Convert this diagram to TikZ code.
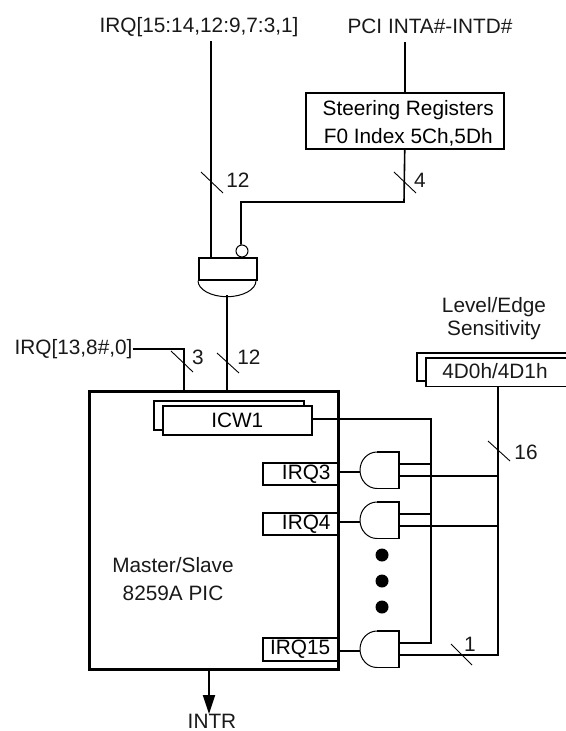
\documentclass[tikz,border=0pt]{standalone}
\usepackage{fontspec}
\setmainfont{Liberation Sans}
\usetikzlibrary{arrows.meta}
\newcommand{\fnt}{\fontsize{20.8}{22}\selectfont}
\tikzset{
  wire/.style={line width=1.6pt,line cap=butt},
  slash/.style={line width=0.9pt},
  regbox/.style={draw,line width=1.5pt,fill=white,inner sep=0pt,anchor=north west},
  lbl/.style={inner sep=0pt,font=\fnt,text=black!90},
  dot/.style={circle,fill=black,inner sep=0pt,minimum size=13pt},
}
% gate: name, y-top; body 360..399, height 36
\newcommand{\andgate}[2]{%
  \draw[line width=1.5pt] (377,#2) -- (399,#2) -- (399,#2+36.5) -- (377,#2+36.5);
  \draw[line width=1pt] (377,#2) arc[start angle=270,end angle=90,x radius=17,y radius=18.25];
  \coordinate (#1in) at (360,#2+20);
  \coordinate (#1a) at (399,#2+12);
  \coordinate (#1b) at (399,#2+24);
}
\begin{document}
\begin{tikzpicture}[x=1pt,y=-1pt]
\useasboundingbox (0,0) rectangle (565,731);
% Texts at top
\node[lbl] (irqtop) at (199,27) {IRQ[15:14,12:9,7:3,1]};
\node[lbl] (pcitop) at (430,26) {PCI INTA\#-INTD\#};
% Steering
\node[regbox,minimum width=198pt,minimum height=56pt,align=center,font=\fontsize{20.8}{28}\selectfont] (steer) at (305,92) {\rule{0pt}{21pt}\hspace*{7pt}Steering Registers\\\hspace*{7pt}F0 Index 5Ch,5Dh};
% Top gate
\node[draw,line width=1.7pt,minimum width=58pt,minimum height=22pt,inner sep=0pt,anchor=north west] (ggate) at (198,257) {};
\draw[line width=1pt] (ggate.south west) arc[start angle=180,end angle=0,x radius=29,y radius=16];
\coordinate (gout) at (227,295);
\node[draw,circle,line width=1pt,minimum size=12pt,inner sep=0pt,fill=white] (bubble) at (242,251) {};
\coordinate (gin) at (211,257);
% Main box
\node[draw,line width=3pt,minimum width=249pt,minimum height=278pt,inner sep=0pt,anchor=north west] (pic) at (88,390) {};
\node[lbl,align=center,font=\fontsize{20.8}{28}\selectfont] (pictext) at (173,579) {Master/Slave\\8259A PIC};
% ICW1
\node[regbox,minimum width=150pt,minimum height=29pt] (icwb) at (153,400) {};
\node[regbox,minimum width=149pt,minimum height=29pt,font=\fnt] (icw) at (162,405) {ICW1};
% IRQ boxes
\node[regbox,minimum width=75pt,minimum height=22pt,font=\fnt] (q3) at (262,462) {\hspace*{12pt}IRQ3};
\node[regbox,minimum width=75pt,minimum height=22pt,font=\fnt] (q4) at (262,512) {\hspace*{12pt}IRQ4};
\node[regbox,minimum width=75pt,minimum height=23pt,font=\fnt] (q15) at (262,637) {IRQ15};
% Gates
\andgate{ga}{452}
\andgate{gb}{502}
\andgate{gc}{631}
% Dots
\node[dot] (d1) at (382,555) {};
\node[dot] (d2) at (382,581) {};
\node[dot] (d3) at (382,607) {};
% 4D0h
\node[regbox,minimum width=160pt,minimum height=28pt] (edgeb) at (416,352) {};
\node[regbox,minimum width=150pt,minimum height=28.5pt] (edge) at (425,357) {};
\node[lbl] (edget) at (495,371) {4D0h/4D1h};
\node[lbl,align=center,font=\fontsize{20.8}{23}\selectfont] (edgelab) at (494,318.5) {Level/Edge\\Sensitivity};
% Named coordinates
\coordinate (bus) at (498,386);
\coordinate (icwr) at (431,419);
% Wires
\draw[wire] (gin) -- (gin |- 0,41);
\draw[wire] (steer.north) -- (steer.north |- 0,42);
\draw[wire] (steer.south) -- (404,202) -- (241,202) -- (bubble.north -| 241,0);
\draw[wire] (gout) -- (gout |- pic.north);
\node[lbl] (irqleft) at (73.5,349) {IRQ[13,8\#,0]};
\draw[wire] (irqleft.east) -- (184,349) -- (184,390);
\draw[wire] (icw.east |- icwr) -- (icwr) -- (icwr |- gca) -- (gca);
\draw[wire] (q3.east |- gain) -- (gain);
\draw[wire] (q4.east |- gbin) -- (gbin);
\draw[wire] (q15.east |- gcin) -- (gcin);
\draw[wire] (gaa) -- (gaa -| icwr);
\draw[wire] (gba) -- (gba -| icwr);
\draw[wire] (edge.south -| bus) -- (bus |- gcb) -- (gcb);
\draw[wire] (gab) -- (gab -| bus);
\draw[wire] (gbb) -- (gbb -| bus);
\draw[line width=1.8pt,-{Triangle[length=19pt,width=12pt]}] (209,668) -- (209,714) coordinate (intrtip);
\node[lbl] (intr) at (212,721) {INTR};
% Slashes
\draw[slash] (201,172) -- (223,193);
\draw[slash] (394,172) -- (416,193);
\draw[slash] (171,351) -- (193,372);
\draw[slash] (217,353) -- (239,373);
\draw[slash] (488,441) -- (510,461);
\draw[slash] (451,644) -- (472,665);
\node[lbl] (n12a) at (238,180) {12};
\node[lbl] (n4) at (420,180) {4};
\node[lbl] (n3) at (198,357) {3};
\node[lbl] (n12b) at (249,357) {12};
\node[lbl] (n16) at (526,452) {16};
\node[lbl] (n1) at (470,644) {1};
\end{tikzpicture}
\end{document}
